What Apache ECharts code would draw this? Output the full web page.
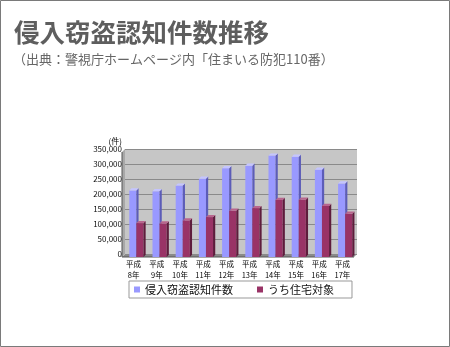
<!DOCTYPE html>
<html>
<head>
<meta charset="utf-8">
<script src="https://cdn.jsdelivr.net/npm/echarts@6/dist/echarts.min.js"></script>
<style>
html,body{margin:0;padding:0;background:#fff;}
#c{width:450px;height:347px;}
</style>
</head>
<body>
<div id="c"></div>
<script>
const titleText = '侵入窃盗認知件数推移';
const subText = '（出典：警視庁ホームページ内「住まいる防犯110番）';
const categories = ['平成\n8年','平成\n9年','平成\n10年','平成\n11年','平成\n12年','平成\n13年','平成\n14年','平成\n15年','平成\n16年','平成\n17年'];
const seriesNames = ['侵入窃盗認知件数','うち住宅対象'];
const burglary = [222000, 219000, 238000, 261000, 296000, 304000, 338000, 334000, 291000, 245000];
const residential = [113000, 112000, 122000, 133000, 154000, 163000, 190000, 191000, 170000, 144000];
const yMin = 0, yMax = 350000, yStep = 50000;
const unitLabel = '(件)';

const FONT = '"Noto Sans CJK JP", "Noto Sans", sans-serif';
const G = {left:125, right:93, top:149, bottom:93};
const W = 450, H = 347;
const gx0 = G.left, gx1 = W - G.right, gy0 = G.top, gy1 = H - G.bottom;
const D = 3;

const palettes = [
  {front:'#9999ff', side:'#5c5cb8', top:'#c4c4ff'},
  {front:'#993366', side:'#5e1c3c', top:'#b8668e'}
];

function makeRender(k){
  return function(params, api){
    const idx = api.value(0), v = api.value(1);
    const pt = api.coord([idx, v]);
    const pb = api.coord([idx, 0]);
    const band = api.size([1,0])[0];
    const w = band*0.305;
    const x1 = pt[0] - band*0.315 + k*w;
    const x2 = x1 + w;
    const yT = pt[1] + D, yB = pb[1] + D;
    const d = 2.2;
    const p = palettes[k];
    return {type:'group', children:[
      {type:'rect', shape:{x:x1, y:yT, width:w, height:yB-yT}, style:{fill:p.front}},
      {type:'polygon', shape:{points:[[x2,yT],[x2+d,yT-d],[x2+d,yB-d],[x2,yB]]}, style:{fill:p.side}},
      {type:'polygon', shape:{points:[[x1,yT],[x1+d,yT-d],[x2+d,yT-d],[x2,yT]]}, style:{fill:p.top}}
    ]};
  };
}

const chart = echarts.init(document.getElementById('c'), null, {renderer:'canvas'});
chart.setOption({
  animation:false,
  backgroundColor:'#fff',
  title:[
    {text:titleText, left:9, top:15, textStyle:{fontFamily:FONT, fontSize:25.5, fontWeight:'bold', color:'#5e5e5e'}},
    {text:subText, left:8, top:48, textStyle:{fontFamily:FONT, fontSize:13, fontWeight:'normal', color:'#666'}}
  ],
  graphic:[
    {type:'rect', z:100, shape:{x:0.5,y:0.5,width:W-1,height:H-1}, style:{fill:null, stroke:'#7a7a7a', lineWidth:1}},
    {type:'polygon', z:-1, shape:{points:[[gx0-D,gy1+D],[gx1-D,gy1+D],[gx1,gy1],[gx0,gy1]]}, style:{fill:'#8a8a8a'}},
    {type:'polygon', z:-1, shape:{points:[[gx0-D,gy0+D],[gx0,gy0],[gx0,gy1],[gx0-D,gy1+D]]}, style:{fill:'#a8a8a8'}},
    {type:'line', z:-1, shape:{x1:gx0-D,y1:gy0+D,x2:gx0-D,y2:gy1+D}, style:{stroke:'#555', lineWidth:1}},
    {type:'line', z:-1, shape:{x1:gx0-D,y1:gy1+D,x2:gx1-D,y2:gy1+D}, style:{stroke:'#555', lineWidth:1}}
  ],
  grid:{left:G.left, right:G.right, top:G.top, bottom:G.bottom, show:true, backgroundColor:'#c6c6c6', borderWidth:0},
  legend:{
    data:seriesNames.map(n=>({name:n, icon:'rect'})),
    left:129, top:281,
    padding:[3,18,3,5],
    itemWidth:6, itemHeight:6, itemGap:24,
    borderColor:'#999', borderWidth:1,
    textStyle:{fontFamily:FONT, fontSize:11, color:'#111', lineHeight:11},
    selectedMode:false
  },
  xAxis:{
    type:'category', data:categories, boundaryGap:true,
    axisLine:{show:false}, axisTick:{show:false},
    axisLabel:{fontFamily:FONT, fontSize:7.5, color:'#000', lineHeight:10.5, margin:5, padding:[0,6,0,0], interval:0}
  },
  yAxis:{
    type:'value', min:yMin, max:yMax, interval:yStep,
    name:unitLabel, nameLocation:'end', nameGap:8,
    nameTextStyle:{fontFamily:FONT, fontSize:8, color:'#000', align:'right', verticalAlign:'middle', padding:[0,3,0,0]},
    axisLine:{show:false}, axisTick:{show:false},
    axisLabel:{fontFamily:FONT, fontSize:8, color:'#111', margin:3, padding:[6,0,0,0],
      formatter:v=>v.toLocaleString('en-US')},
    splitLine:{show:true, lineStyle:{color:'#8a8a8a', width:1}}
  },
  series:[
    {name:seriesNames[0], type:'custom', renderItem:makeRender(0), itemStyle:{color:palettes[0].front},
     data:burglary.map((v,i)=>[i,v]), encode:{x:0,y:1}, z:3},
    {name:seriesNames[1], type:'custom', renderItem:makeRender(1), itemStyle:{color:palettes[1].front},
     data:residential.map((v,i)=>[i,v]), encode:{x:0,y:1}, z:4}
  ]
});
</script>
</body>
</html>
